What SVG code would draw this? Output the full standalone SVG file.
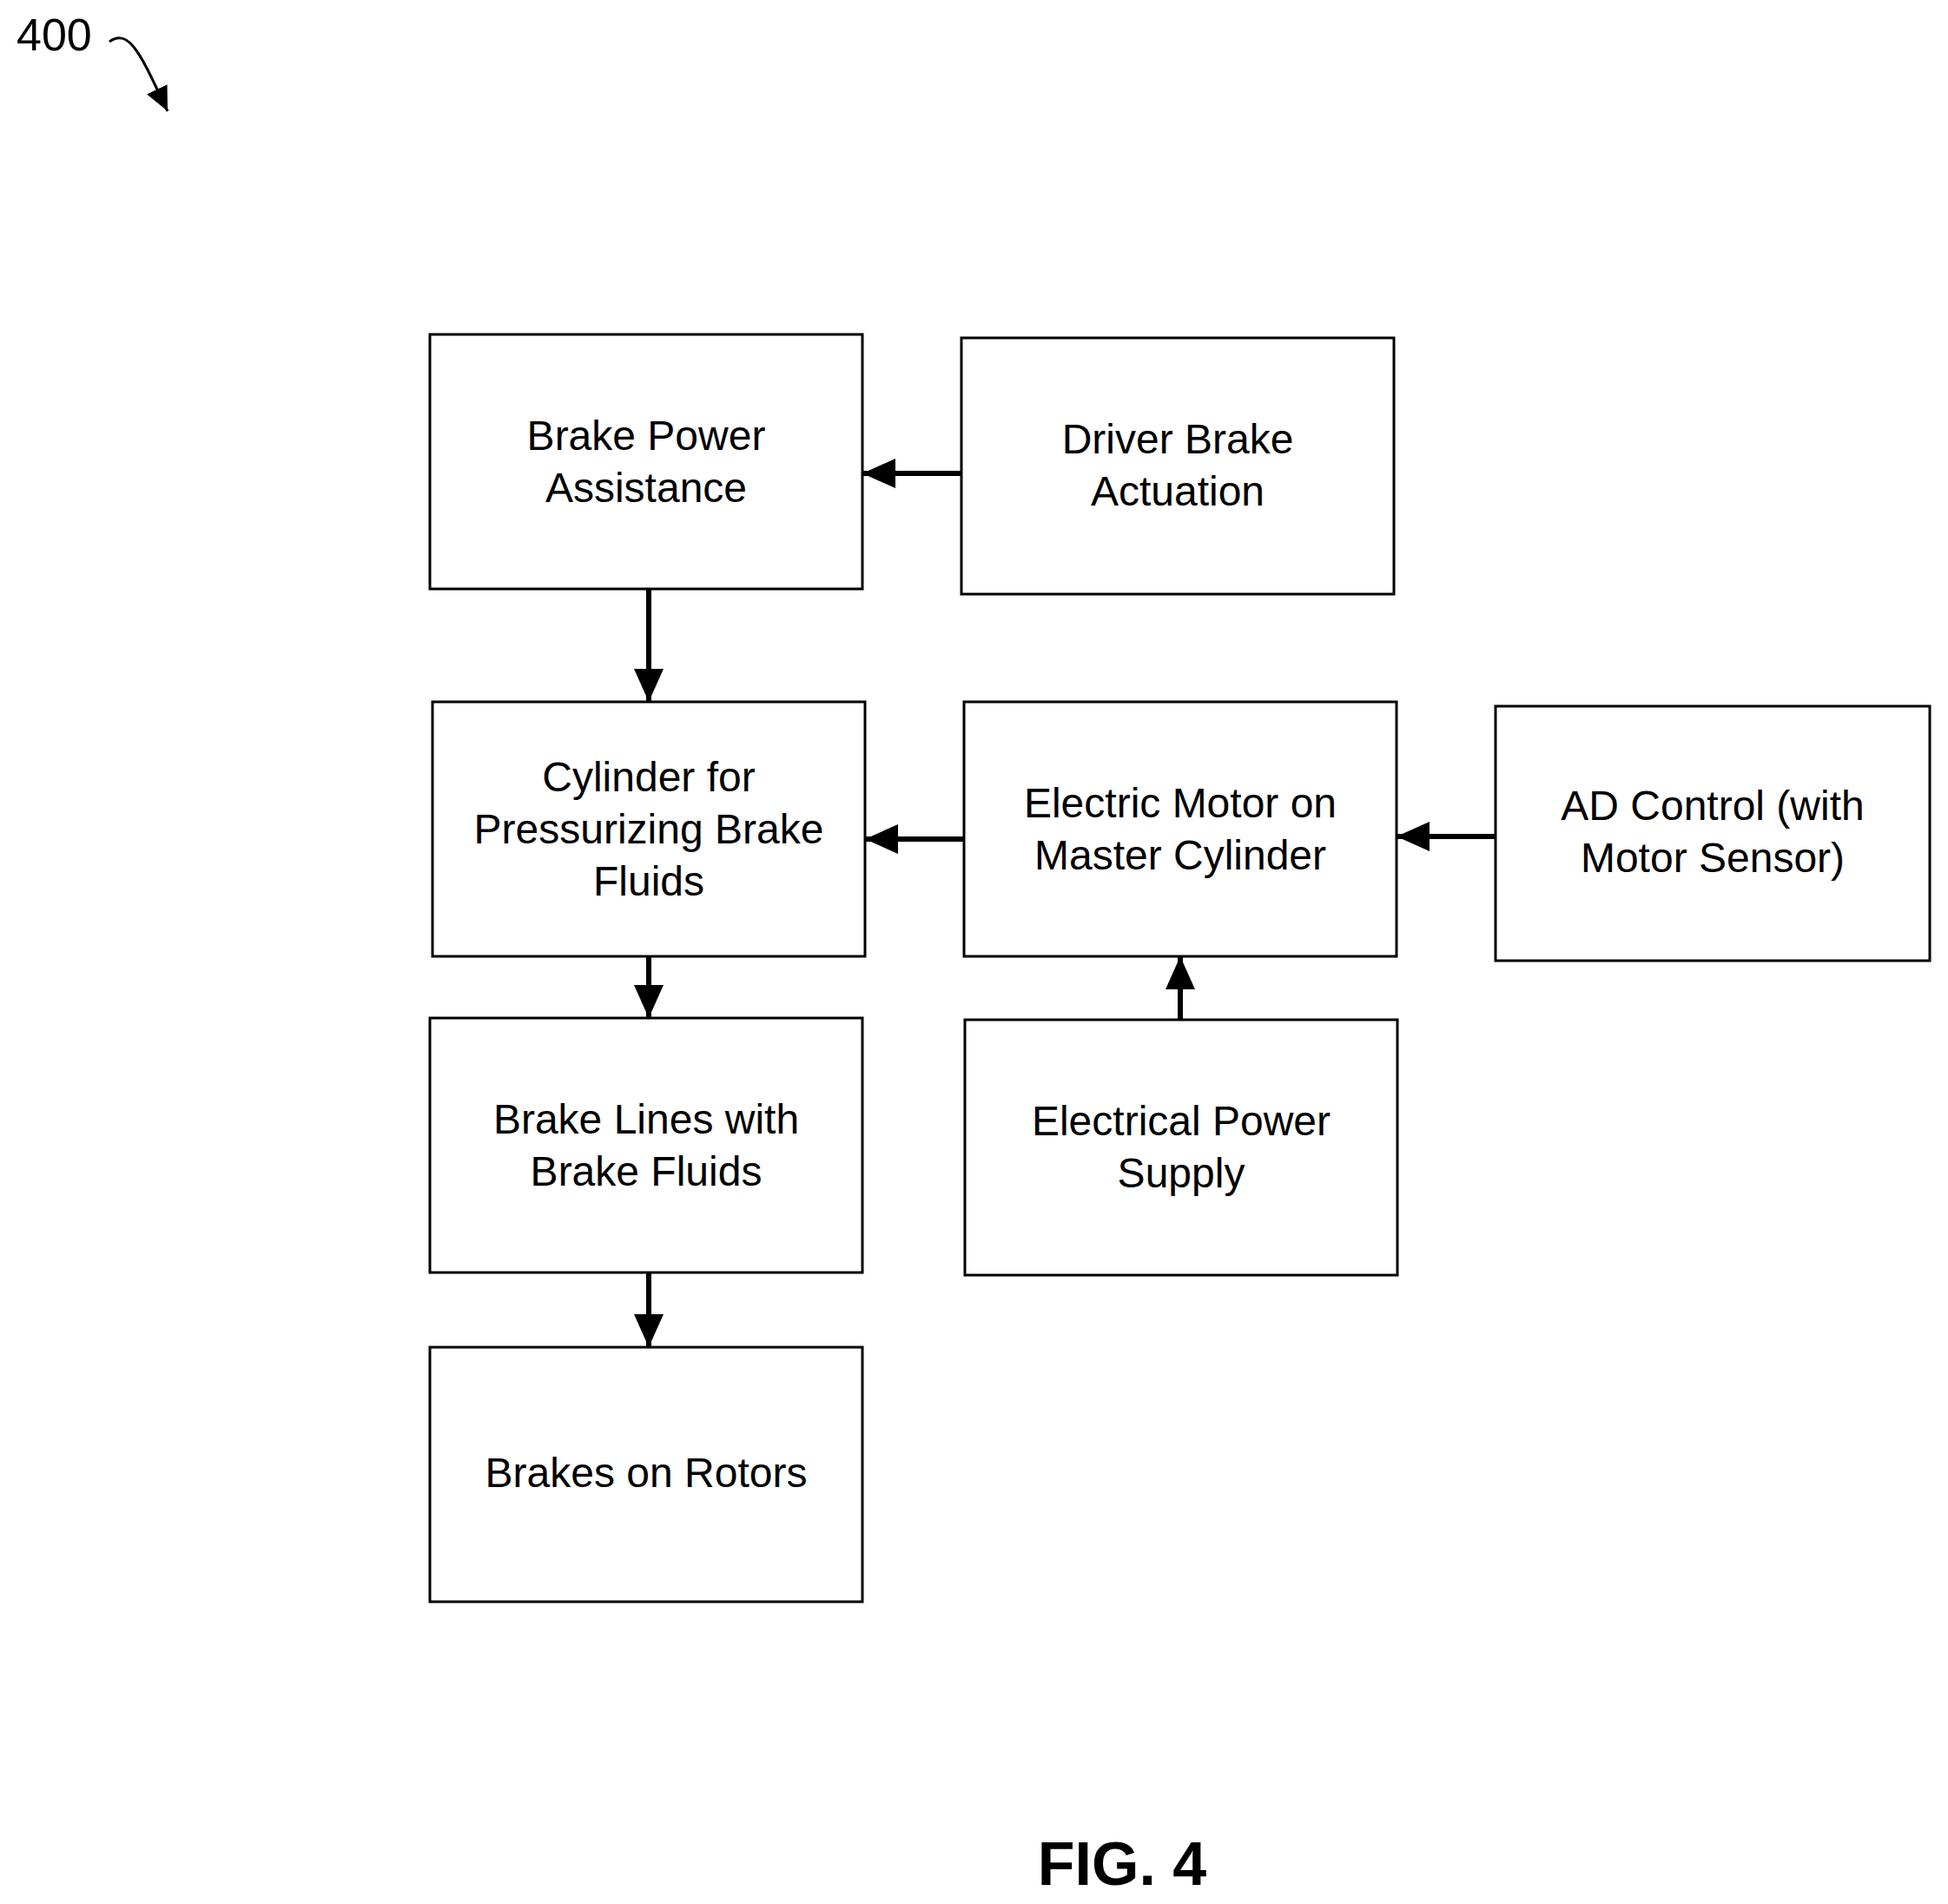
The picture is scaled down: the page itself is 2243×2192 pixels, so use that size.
<svg xmlns="http://www.w3.org/2000/svg" width="2243" height="2192" viewBox="0 0 2243 2192">
<style>
.box{fill:#fff;stroke:#000;stroke-width:3}
.t{font-family:"Liberation Sans",Arial,sans-serif;font-size:48px;text-anchor:middle;fill:#000}
.c{stroke:#000;stroke-width:6;fill:none}
</style>
<defs>
<marker id="ah" markerUnits="userSpaceOnUse" markerWidth="40" markerHeight="34" refX="38" refY="17" orient="auto">
<path d="M0,0 L38,17 L0,34 Z" fill="#000"/>
</marker>
<marker id="ah2" markerUnits="userSpaceOnUse" markerWidth="30" markerHeight="26" refX="28" refY="13" orient="auto">
<path d="M0,0 L28,13 L0,26 Z" fill="#000"/>
</marker>
</defs>
<rect width="2243" height="2192" fill="#fff"/>
<text x="19" y="58" font-family="Liberation Sans,Arial,sans-serif" font-size="52">400</text>
<path d="M126,48 C150,30 165,70 193,128" stroke="#000" stroke-width="3" fill="none" marker-end="url(#ah2)"/>
<g id="n1"><rect class="box" x="495" y="385" width="498" height="293"/><text class="t" x="744" y="518">Brake Power</text><text class="t" x="744" y="578">Assistance</text></g>
<g id="n2"><rect class="box" x="1107" y="389" width="498" height="295"/><text class="t" x="1356" y="522">Driver Brake</text><text class="t" x="1356" y="582">Actuation</text></g>
<g id="n3"><rect class="box" x="498" y="808" width="498" height="293"/><text class="t" x="747" y="911">Cylinder for</text><text class="t" x="747" y="971">Pressurizing Brake</text><text class="t" x="747" y="1031">Fluids</text></g>
<g id="n4"><rect class="box" x="1110" y="808" width="498" height="293"/><text class="t" x="1359" y="941">Electric Motor on</text><text class="t" x="1359" y="1001">Master Cylinder</text></g>
<g id="n5"><rect class="box" x="1722" y="813" width="500" height="293"/><text class="t" x="1972" y="944">AD Control (with</text><text class="t" x="1972" y="1004">Motor Sensor)</text></g>
<g id="n6"><rect class="box" x="495" y="1172" width="498" height="293"/><text class="t" x="744" y="1305">Brake Lines with</text><text class="t" x="744" y="1365">Brake Fluids</text></g>
<g id="n7"><rect class="box" x="1111" y="1174" width="498" height="294"/><text class="t" x="1360" y="1307">Electrical Power</text><text class="t" x="1360" y="1367">Supply</text></g>
<g id="n8"><rect class="box" x="495" y="1551" width="498" height="293"/><text class="t" x="744" y="1712">Brakes on Rotors</text></g>
<g id="connectors">
<path class="c" d="M1107,545 H993" marker-end="url(#ah)"/>
<path class="c" d="M747,678 V808" marker-end="url(#ah)"/>
<path class="c" d="M1110,966 H996" marker-end="url(#ah)"/>
<path class="c" d="M1722,963 H1608" marker-end="url(#ah)"/>
<path class="c" d="M747,1101 V1172" marker-end="url(#ah)"/>
<path class="c" d="M1359,1174 V1101" marker-end="url(#ah)"/>
<path class="c" d="M747,1465 V1551" marker-end="url(#ah)"/>
</g>
<text x="1292" y="2170" font-family="Liberation Sans,Arial,sans-serif" font-size="70" font-weight="bold" text-anchor="middle">FIG. 4</text>
</svg>
